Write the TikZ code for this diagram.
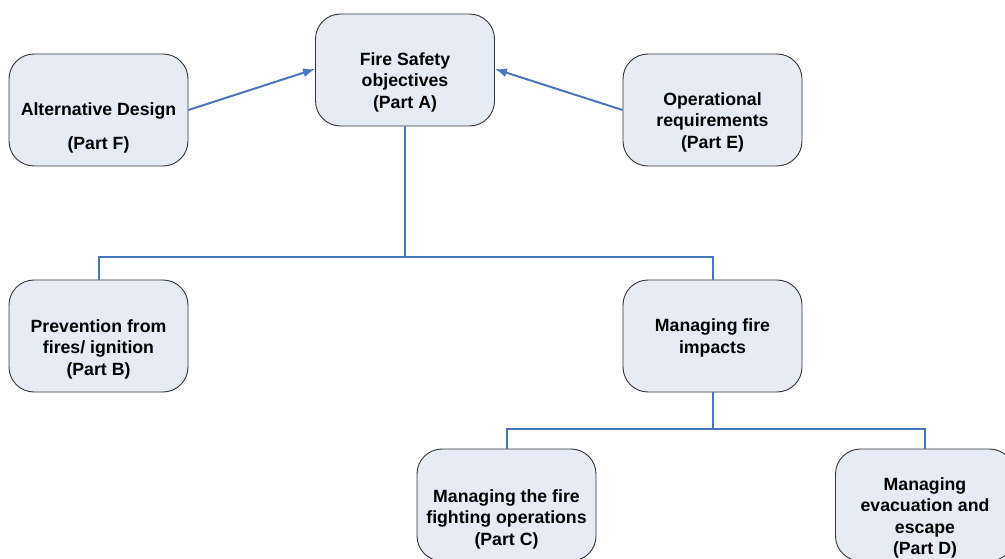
\documentclass[tikz,border=0pt]{standalone}
\usepackage{fontspec}
\setmainfont{Liberation Sans}
\usetikzlibrary{arrows.meta}
\definecolor{boxfill}{HTML}{E6ECF6}
\definecolor{boxline}{HTML}{333333}
\definecolor{linkblue}{HTML}{4A76C0}
\begin{document}
\begin{tikzpicture}[x=1pt,y=-1pt,
  box/.style={draw=boxline,line width=0.9pt,fill=boxfill,rounded corners=25pt,
    minimum width=179pt,minimum height=112pt,inner sep=0pt},
  txt/.style={align=center,font=\bfseries\fontsize{17.7}{21.5}\selectfont,inner sep=0pt},
  link/.style={draw=linkblue,line width=2pt},
  arr/.style={link,-{Latex[length=12pt,width=9pt]}}]
\useasboundingbox (0,0) rectangle (1005,559);
% boxes
\node[box] (A) at (405,70) {};
\node[box] (F) at (98.5,110) {};
\node[box] (E) at (712.5,110) {};
\node[box] (B) at (98.5,336) {};
\node[box] (M) at (712.5,336) {};
\node[box] (C) at (506.5,505) {};
\node[box] (D) at (925,505) {};
% texts
\node[txt] (tA) at (405,82) {Fire Safety\\objectives\\(Part A)};
\node[txt] (tF) at (98.5,128) {Alternative Design\\[12pt](Part F)};
\node[txt] (tE) at (712.5,122) {Operational\\requirements\\(Part E)};
\node[txt] (tB) at (98.5,349) {Prevention from\\fires/ ignition\\(Part B)};
\node[txt] (tM) at (712.5,338) {Managing fire\\impacts};
\node[txt] (tC) at (506.5,519) {Managing the fire\\fighting operations\\(Part C)};
\node[txt] (tD) at (925,518) {Managing\\evacuation and\\escape\\(Part D)};
% connectors
\coordinate (j1) at (405,257);
\coordinate (j2) at (712.5,429);
\draw[link] (A.south) -- (j1);
\draw[link] (B.north) |- (j1) -| (M.north);
\draw[link] (M.south) -- (j2);
\draw[link] (C.north) |- (j2) -| (D.north);
\draw[arr] (F.east) -- ([yshift=1pt]A.west);
\draw[arr] (E.west) -- ([yshift=1pt]A.east);
\end{tikzpicture}
\end{document}
